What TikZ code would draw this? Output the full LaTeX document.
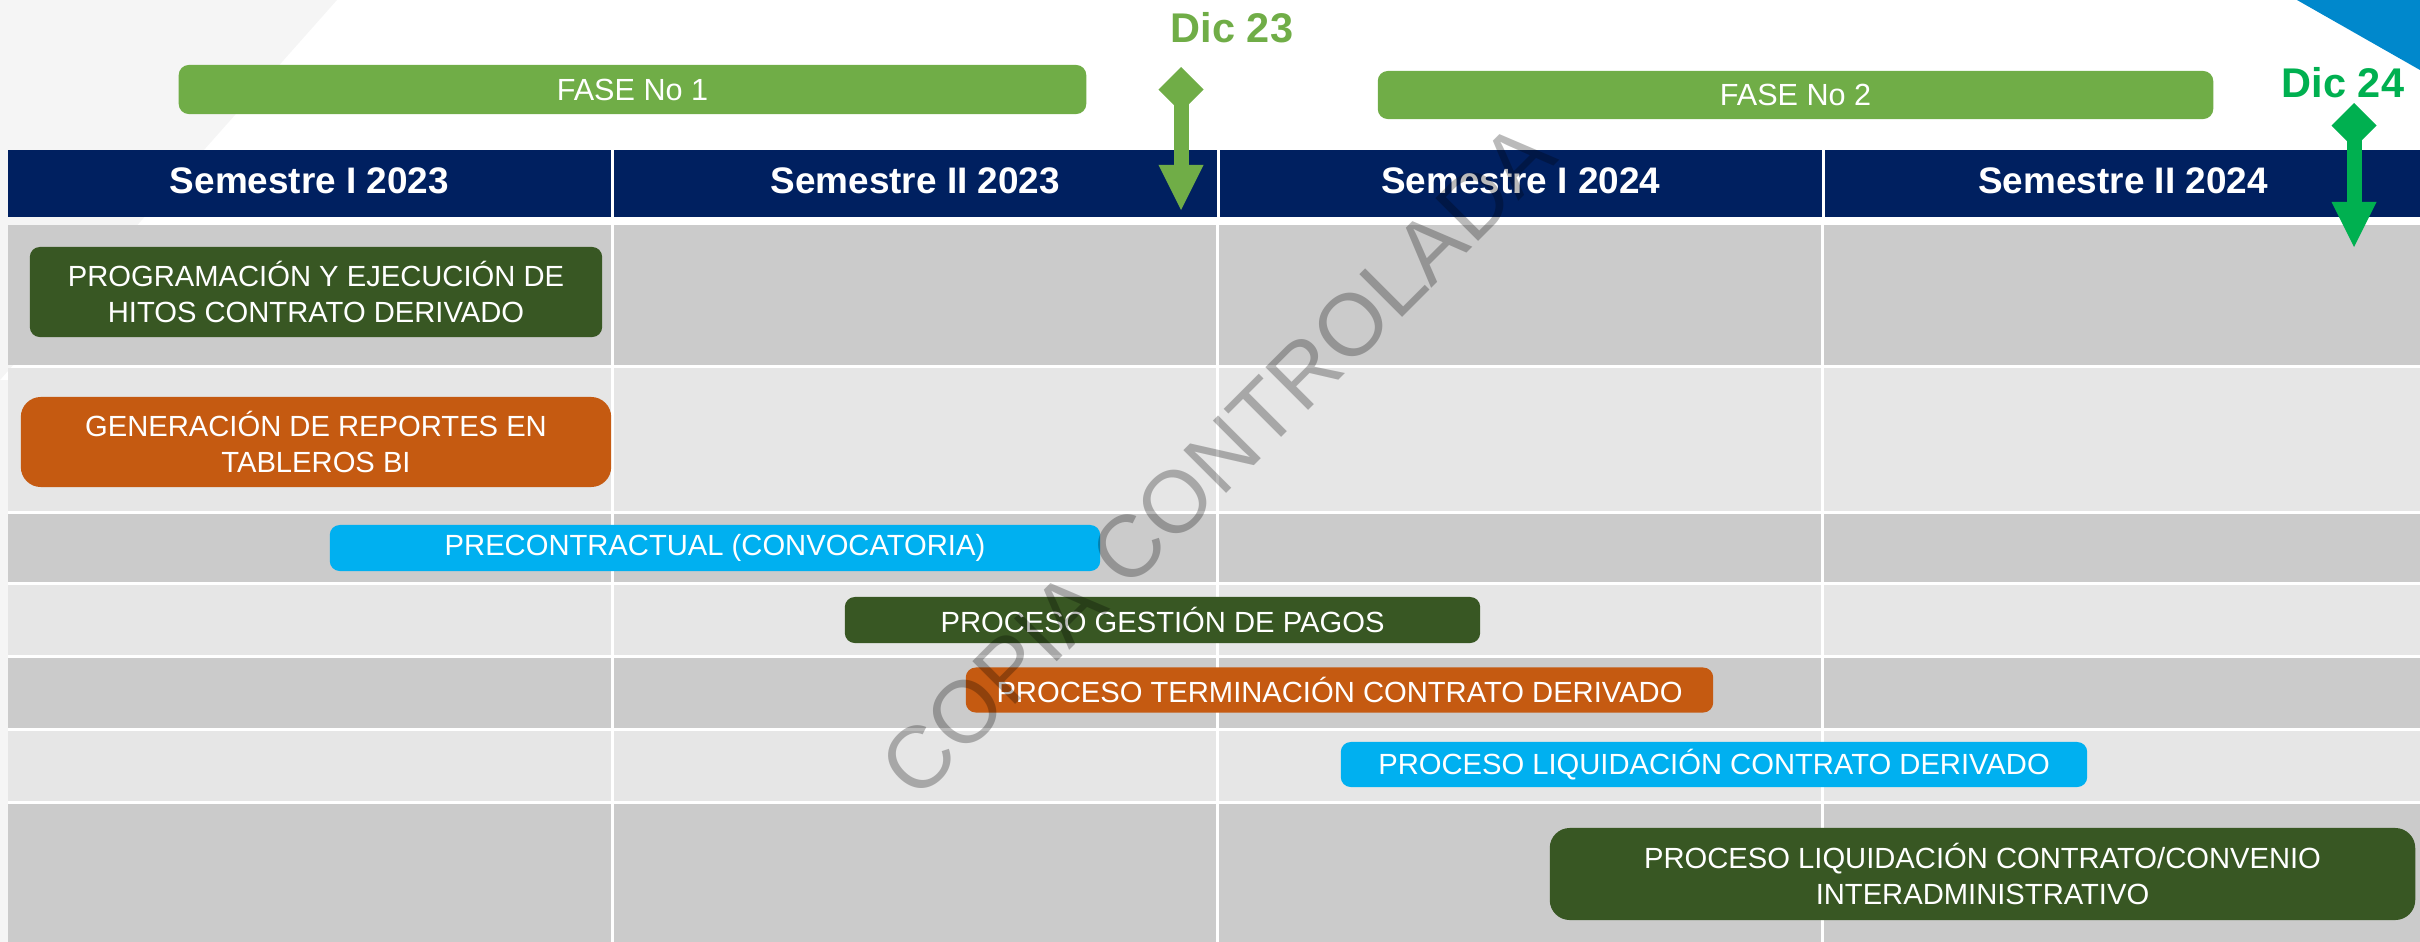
\documentclass[tikz,border=0pt]{standalone}
\usepackage{fontspec}
\setmainfont{Liberation Sans}
\usetikzlibrary{arrows.meta,positioning}
\definecolor{navy}{RGB}{0,32,96}
\definecolor{rowd}{RGB}{203,203,203}
\definecolor{rowl}{RGB}{230,230,230}
\definecolor{gdark}{RGB}{56,87,35}
\definecolor{ornge}{RGB}{197,90,17}
\definecolor{sky}{RGB}{0,176,240}
\definecolor{fase}{RGB}{112,173,71}
\definecolor{dic}{RGB}{0,176,80}
\definecolor{corner}{RGB}{0,136,204}
\definecolor{bgl}{RGB}{245,245,245}
\newcommand{\barfont}{\fontsize{8.3}{10}\selectfont}
\tikzset{hd/.style={fill=navy, text=white, inner sep=0pt, outer sep=0pt, minimum height=0.67cm,
            text depth=0.06cm, font=\bfseries\fontsize{10.5}{12}\selectfont},
         bar/.style={fill=#1, text=white, inner sep=0pt, align=center,
            rounded corners=0.1cm, font=\barfont},
         fs/.style={fill=fase, text=white, inner sep=0pt, rounded corners=0.1cm,
            font=\fontsize{8.7}{10}\selectfont},
         dlab/.style={text=#1, inner sep=0pt, font=\bfseries\fontsize{11.8}{13}\selectfont},
         mk/.style={draw=#1, line width=0.15cm,
            {Diamond[length=0.45cm,width=0.45cm,line width=0pt]}-{Triangle[length=0.45cm,width=0.45cm,line width=0pt]}},
         wmark/.style={rotate=45, text=black, text opacity=0.27, inner sep=0pt,
            font=\fontsize{25}{30}\selectfont}}

\begin{document}
\begin{tikzpicture}[x=0.01cm, y=-0.01cm]
 \useasboundingbox (0,0) rectangle (2420,942);
 \fill[bgl] (0,0) -- (337,0) -- (0,380) -- cycle;
 \fill[bgl] (0,380) rectangle (8,942);
 \fill[corner] (2297,0) -- (2420,0) -- (2420,70) -- cycle;

 % semestres
 \node[hd, minimum width=6.03cm] (s1) at (309.5,183.5) {Semestre I 2023};
 \node[hd, minimum width=6.02cm] (s2) [right=0.03cm of s1] {Semestre II 2023};
 \node[hd, minimum width=6.02cm] (s3) [right=0.03cm of s2] {Semestre I 2024};
 \node[hd, minimum width=5.96cm] (s4) [right=0.03cm of s3] {Semestre II 2024};

 \foreach \ya/\yb/\c in {225/364.5/rowd, 367.5/510.5/rowl, 513.5/581.5/rowd,
     584.5/654.5/rowl, 657.5/727.5/rowd, 730.5/800.5/rowl, 803.5/942/rowd}
   \fill[\c] (8,\ya) rectangle (2420,\yb);
 \foreach \x in {612.5,1217.5,1822.5}
   \draw[white, line width=0.03cm] (\x,225) -- (\x,942);

 \node[fs, minimum width=9.07cm, minimum height=0.49cm] (f1) at (632.5,89.5) {FASE No 1};
 \node[fs, minimum width=8.35cm, minimum height=0.48cm] (f2) at (1795.5,95) {FASE No 2};

 \node[bar=gdark, minimum width=5.72cm, minimum height=0.9cm] (prog) at (316,292)
   {PROGRAMACIÓN Y EJECUCIÓN DE\\HITOS CONTRATO DERIVADO};
 \node[bar=ornge, minimum width=5.9cm, minimum height=0.9cm, rounded corners=0.2cm] (gen) at (316,442)
   {GENERACIÓN DE REPORTES EN\\TABLEROS BI};
 \node[bar=sky, minimum width=7.7cm, minimum height=0.46cm] (prec) at (715,548)
   {PRECONTRACTUAL (CONVOCATORIA)};
 \node[bar=gdark, minimum width=6.35cm, minimum height=0.46cm] (pag) at (1162.5,620)
   {PROCESO GESTIÓN DE PAGOS};
 \node[bar=ornge, minimum width=7.47cm, minimum height=0.45cm] (term) at (1339.5,690)
   {PROCESO TERMINACIÓN CONTRATO DERIVADO};
 \node[bar=sky, minimum width=7.46cm, minimum height=0.45cm] (liq) at (1714,764.5)
   {PROCESO LIQUIDACIÓN CONTRATO DERIVADO};
 \node[bar=gdark, minimum width=8.65cm, minimum height=0.92cm, rounded corners=0.2cm] (conv) at (1982.5,874)
   {PROCESO LIQUIDACIÓN CONTRATO/CONVENIO\\INTERADMINISTRATIVO};

 % hitos
 \node[dlab=fase] (d23) at (1232,28) {Dic 23};
 \node[dlab=dic] (d24) at (2343,83) {Dic 24};
 \coordinate (d23a) at (1181,67);
 \coordinate (d23b) at (1181,210);
 \coordinate (d24a) at (2354,103);
 \coordinate (d24b) at (2354,247);
 \draw[mk=fase] (d23a) -- (d23b);
 \draw[mk=dic] (d24a) -- (d24b);

 \node[wmark] (wm) at (1217,460) {COPIA CONTROLADA};
\end{tikzpicture}
\end{document}
